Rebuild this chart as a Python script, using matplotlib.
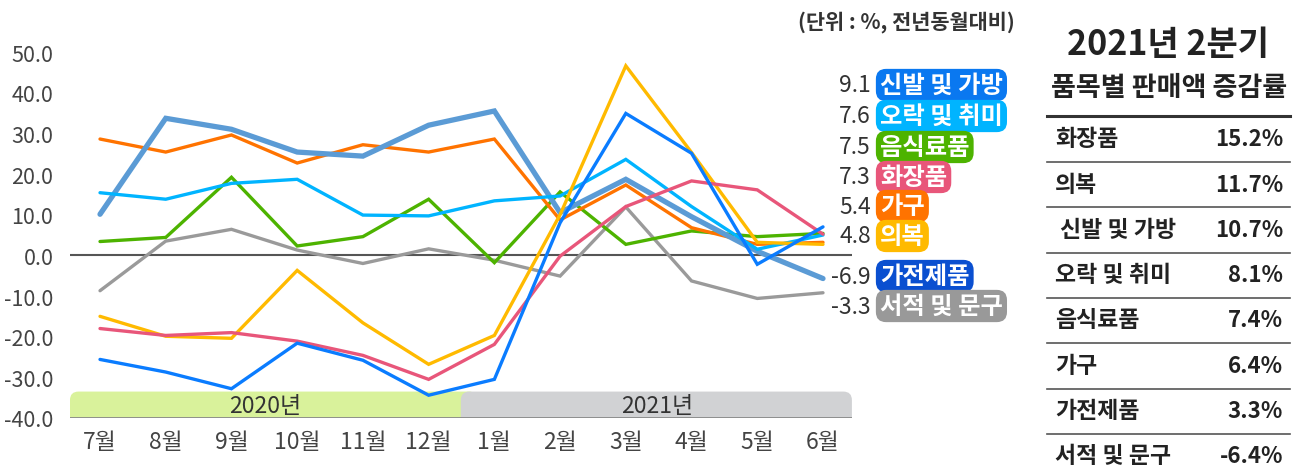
import matplotlib
matplotlib.use("Agg")
import matplotlib.pyplot as plt
from matplotlib.patches import FancyBboxPatch
from matplotlib.lines import Line2D

plt.rcParams['font.family'] = ['Noto Sans CJK KR', 'DejaVu Sans']

months = ["7월", "8월", "9월", "10월", "11월", "12월", "1월", "2월", "3월", "4월", "5월", "6월"]
years = ["2020년", "2021년"]

# 전년동월대비 증감률 (%)
appliances = [10.1, 33.7, 31.0, 25.4, 24.4, 32.0, 35.5, 10.5, 18.7, 9.5, 1.0, -5.7]
furniture = [28.6, 25.4, 29.6, 22.7, 27.2, 25.4, 28.6, 8.7, 17.3, 6.8, 2.7, 3.2]
hobby = [15.4, 13.8, 17.7, 18.7, 9.9, 9.7, 13.4, 14.6, 23.6, 12.0, 1.5, 5.0]
food = [3.4, 4.4, 19.2, 2.3, 4.6, 13.8, -1.8, 15.6, 2.7, 6.0, 4.6, 5.4]
books = [-8.7, 3.5, 6.4, 1.3, -2.0, 1.6, -1.2, -5.1, 11.9, -6.3, -10.6, -9.2]
clothes = [-15.0, -19.9, -20.4, -3.7, -16.6, -26.8, -19.7, 10.0, 46.6, 25.3, 3.2, 2.7]
cosmetics = [-18.0, -19.7, -19.0, -21.1, -24.6, -30.5, -21.9, -0.2, 12.0, 18.3, 16.1, 5.2]
shoes = [-25.6, -28.7, -32.8, -21.6, -25.8, -34.4, -30.5, 8.0, 34.9, 25.1, -2.2, 7.0]

end_names = ["신발 및 가방", "오락 및 취미", "음식료품", "화장품", "가구", "의복", "가전제품", "서적 및 문구"]
end_values = ["9.1", "7.6", "7.5", "7.3", "5.4", "4.8", "-6.9", "-3.3"]

table_names = ["화장품", "의복", "신발 및 가방", "오락 및 취미", "음식료품", "가구", "가전제품", "서적 및 문구"]
table_values = ["15.2%", "11.7%", "10.7%", "8.1%", "7.4%", "6.4%", "3.3%", "-6.4%"]

W, H = 1303, 477


def fx(x):
    return x / W


def fy(y):
    return 1 - y / H


fig = plt.figure(figsize=(W / 100, H / 100), dpi=100)
ax = fig.add_axes([fx(70), fy(419), fx(852 - 70), (419 - 40) / H])

x = list(range(len(months)))
series = [
    (books, "#9a9a9a", 2.4),
    (food, "#4db300", 2.4),
    (furniture, "#ff7300", 2.4),
    (appliances, "#5b9bd5", 3.8),
    (hobby, "#00b4ff", 2.4),
    (clothes, "#ffba00", 2.4),
    (cosmetics, "#e8567a", 2.4),
    (shoes, "#0a7cff", 2.4),
]
for vals, col, lw in series:
    ax.plot(x, vals, color=col, lw=lw, solid_capstyle="round", solid_joinstyle="miter", zorder=3)

ax.set_xlim(-(100 - 70) / 65.7, 11 + (852 - 823) / 65.7)
ax.set_ylim(-40, (256 - 40) / 4.06)

ax.axhline(0, color="#555555", lw=1.5, zorder=2)
ax.axhline(-40, color="#888888", lw=2, zorder=4)

# year bands
aspect = 65.7 / 4.06
band_top = -33.5
green = FancyBboxPatch((-0.457, -45), 6.2, band_top + 45, boxstyle="round,pad=0,rounding_size=0.13",
                       mutation_aspect=aspect, fc="#d9f29b", ec="none", zorder=1)
grey = FancyBboxPatch((5.49, -45), 11.44 - 5.49, band_top + 45, boxstyle="round,pad=0,rounding_size=0.13",
                      mutation_aspect=aspect, fc="#d1d2d4", ec="none", zorder=1)
ax.add_patch(green)
ax.add_patch(grey)
ax.text(2.51, -37.0, years[0], ha="center", va="center", fontsize=16.5, color="#333333", zorder=2)
ax.text(8.48, -37.0, years[1], ha="center", va="center", fontsize=16.5, color="#333333", zorder=2)

for s in ax.spines.values():
    s.set_visible(False)
ax.set_yticks(range(-40, 60, 10))
ax.set_yticklabels([f"{v:.1f}" for v in range(-40, 60, 10)])
ax.set_xticks(x)
ax.set_xticklabels(months)
ax.tick_params(axis="y", length=0, pad=12, labelsize=15.5, labelcolor="#444444")
ax.tick_params(axis="x", length=0, pad=9, labelsize=16.5, labelcolor="#444444")

# end labels
label_y = [86, 117, 148, 178, 207, 237, 277, 307]
label_cols = ["#0a78f0", "#00b4ff", "#4db300", "#e8567a", "#ff7300", "#ffba00", "#0a4fd0", "#999999"]
for name, val, yy, col in zip(end_names, end_values, label_y, label_cols):
    fig.text(fx(871), fy(yy), val, ha="right", va="center", fontsize=16.5, color="#333333")
    fig.text(fx(880), fy(yy), name, ha="left", va="center", fontsize=17.5, color="white", weight="bold",
             bbox=dict(boxstyle="round,pad=0.17,rounding_size=0.42", fc=col, ec="none"))

fig.text(fx(1015), fy(22), "(단위 : %, 전년동월대비)", ha="right", va="center", fontsize=15,
         weight="bold", color="#333333")

# right table
fig.text(fx(1168), fy(45), "2021년 2분기", ha="center", va="center", fontsize=24.5, weight="bold", color="#222222")
fig.text(fx(1169), fy(88), "품목별 판매액 증감률", ha="center", va="center", fontsize=19.5, weight="bold", color="#222222")
fig.add_artist(Line2D([fx(1047), fx(1290)], [fy(117), fy(117)], color="#333333", lw=2.2))
row_y = [140, 185, 231, 276, 321, 367, 412, 457]
for i, (name, val) in enumerate(zip(table_names, table_values)):
    yy = row_y[i]
    xl = 1060 if name == "신발 및 가방" else 1055
    fig.text(fx(xl), fy(yy), name, ha="left", va="center", fontsize=16.5, color="#222222", weight="bold")
    fig.text(fx(1283), fy(yy), val, ha="right", va="center", fontsize=16, color="#222222", weight="bold")
    if i < len(table_names) - 1:
        ly = yy + 23
        fig.add_artist(Line2D([fx(1047), fx(1290)], [fy(ly), fy(ly)], color="#555555", lw=1.2))

fig.savefig("out.png", dpi=100)
